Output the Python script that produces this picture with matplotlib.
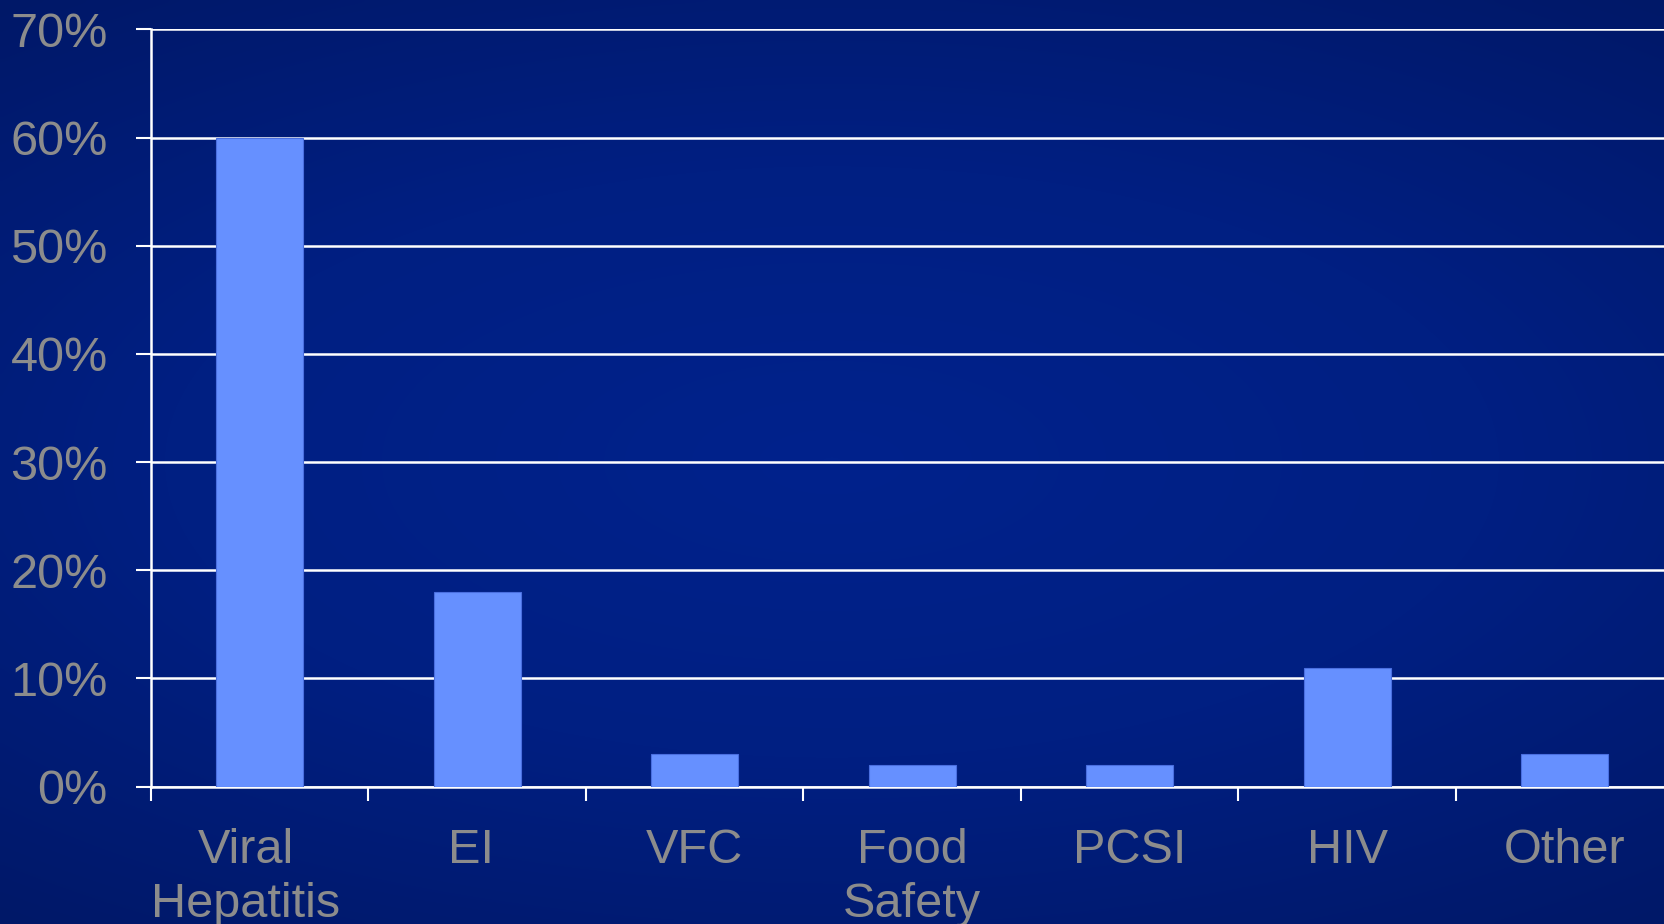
import numpy as np
import matplotlib
matplotlib.use("Agg")
import matplotlib.pyplot as plt
import matplotlib.transforms as mtransforms
from matplotlib.colors import LinearSegmentedColormap

categories = ["Viral\nHepatitis", "EI", "VFC", "Food\nSafety", "PCSI", "HIV", "Other"]
values = [60, 18, 3, 2, 2, 11, 3]
yticks = [0, 10, 20, 30, 40, 50, 60, 70]
ytick_labels = ["0%", "10%", "20%", "30%", "40%", "50%", "60%", "70%"]

plt.rcParams['font.family'] = ['Liberation Sans', 'DejaVu Sans']

fig = plt.figure(figsize=(16.64, 9.24), dpi=100)

# background gradient
bg = fig.add_axes([0, 0, 1, 1], zorder=-10)
ny, nx = 200, 360
yy, xx = np.mgrid[-1:1:ny*1j, -1:1:nx*1j]
r = np.sqrt((xx*0.8)**2 + (yy*1.0)**2)
r = np.clip(r / r.max(), 0, 1)
cmap = LinearSegmentedColormap.from_list("bg", ["#00228c", "#001f82", "#001868"])
bg.imshow(r, cmap=cmap, aspect='auto', extent=[0, 1, 0, 1], interpolation='bicubic')
bg.axis('off')

ax = fig.add_axes([0.0906, 0.1488, 0.915, 0.8193])
ax.patch.set_alpha(0)
x = np.arange(len(categories))
ax.bar(x, values, width=0.4, color="#6690ff", edgecolor="#4a6fe0", linewidth=0.8, zorder=3)

ax.set_xlim(-0.5, len(categories) - 0.5)
ax.set_ylim(0, 70)
ax.set_yticks(yticks)
ax.set_yticklabels(ytick_labels)
ax.set_xticks(x)
ax.set_xticklabels(categories, linespacing=1.25)
ax.set_xticks(np.arange(len(categories)) - 0.5, minor=True)

ax.grid(axis='y', color='white', linewidth=1.8, zorder=1)
ax.set_axisbelow(True)
for s in ['top', 'right']:
    ax.spines[s].set_visible(False)
for s in ['left', 'bottom']:
    ax.spines[s].set_color('white')
    ax.spines[s].set_linewidth(1.8)

ax.tick_params(axis='y', colors='white', length=11, width=1.5, labelsize=35,
               labelcolor='#8c8c8c', pad=20)
ax.tick_params(axis='x', which='major', length=0, labelsize=35, labelcolor='#8c8c8c', pad=30)
ax.tick_params(axis='x', which='minor', length=10, width=1.5, colors='white', direction='out')

# slight left shift of first two labels as in the original
shifts = [-0.14, -0.06]
for lbl, dx in zip(ax.get_xticklabels()[:2], shifts):
    lbl.set_transform(lbl.get_transform() + mtransforms.ScaledTranslation(dx, 0, fig.dpi_scale_trans))

fig.savefig("out.png", dpi=100)
